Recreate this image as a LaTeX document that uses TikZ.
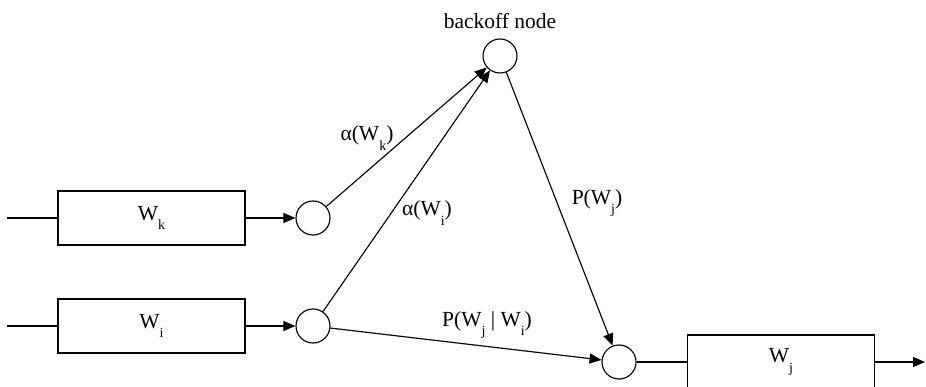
\documentclass[tikz,border=0pt]{standalone}
\usepackage{fontspec}
\setmainfont{Liberation Serif}
\usetikzlibrary{arrows.meta}
\newcommand{\lowsub}[1]{\raisebox{-0.45em}{\fontsize{14}{14}\selectfont #1}}

\begin{document}
\begin{tikzpicture}[x=1pt,y=-1pt,line width=1.15pt,>={Triangle[length=12pt,width=10pt]},
  every node/.style={font=\fontsize{21.5}{25}\selectfont},
  wbox/.style={draw,minimum width=187pt,minimum height=54pt,inner sep=0pt},
  unit/.style={draw,circle,minimum size=34pt,inner sep=0pt}]
\useasboundingbox (0,0) rectangle (926,387);
% word history boxes and their input units
\node[wbox] (wk) at (151.5,218) {W\lowsub{k}};
\node[wbox] (wi) at (151.5,326) {W\lowsub{i}};
\node[unit] (ck) at (313,218) {};
\node[unit] (ci) at (313,326) {};
\coordinate (ink) at (7,218);
\coordinate (ini) at (7,326);
% backoff unit, target unit and predicted word
\node[unit] (bo) at (500,56) {};
\node (bolbl) at (500,21) {backoff node};
\node[unit] (cj) at (619,362) {};
\node[wbox] (wj) at (781,362) {W\lowsub{j}};
\coordinate (out) at (925,362);
\draw (ink) -- (wk);
\draw (ini) -- (wi);
\draw[->] (wk) -- (ck);
\draw[->] (wi) -- (ci);
\draw[->] (ck) -- (bo);
\draw[->] (ci) -- (bo);
\draw[->] (bo) -- (cj);
\draw[->] (ci) -- (cj);
\draw (cj) -- (wj);
\draw[->] (wj) -- (out);
% edge weights
\node (ak) at (367,138) {α(W\lowsub{k})};
\node (ai) at (427,213) {α(W\lowsub{i})};
\node (pj) at (597,203) {P(W\lowsub{j})};
\node (pji) at (487,325) {P(W\lowsub{j} | W\lowsub{i})};
\end{tikzpicture}
\end{document}
